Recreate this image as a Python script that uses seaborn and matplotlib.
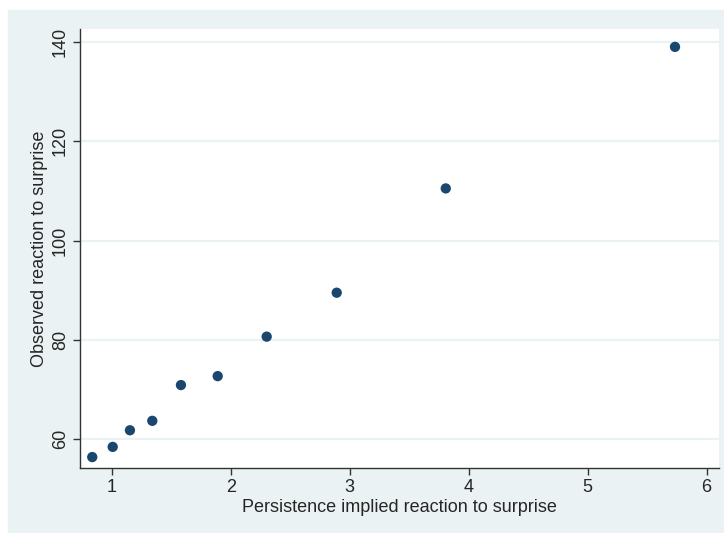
import matplotlib
matplotlib.use("Agg")
import matplotlib.pyplot as plt
import seaborn as sns
import pandas as pd

# persistence implied vs observed reaction to surprise
implied = [0.834, 1.006, 1.151, 1.339, 1.580, 1.889, 2.301, 2.890, 3.807, 5.735]
observed = [56.4, 58.45, 61.8, 63.7, 70.9, 72.7, 80.65, 89.5, 110.5, 139.0]
xticks = [1, 2, 3, 4, 5, 6]
yticks = [60, 80, 100, 120, 140]

df = pd.DataFrame({"implied": implied, "observed": observed})

sns.set_style("white")
plt.rcParams['font.family'] = ['Liberation Sans', 'DejaVu Sans']

bg = "#EAF2F3"
navy = "#1A476F"

fig = plt.figure(figsize=(7.24, 5.33), dpi=100)
fig.patch.set_facecolor("white")
rect = plt.Rectangle((8 / 724, 0), 1 - 8 / 724, 1 - 10 / 533,
                     transform=fig.transFigure, color=bg, zorder=-10)
fig.add_artist(rect)
ax = fig.add_axes([80 / 724, 1 - 468 / 533, (719 - 80) / 724, (468 - 29) / 533])
ax.set_zorder(1)
ax.set_facecolor("white")

for y in yticks:
    ax.axhline(y, color=bg, lw=1.6, zorder=1)

sns.scatterplot(data=df, x="implied", y="observed", ax=ax, color=navy,
                s=55, edgecolor="none", zorder=3, legend=False)

ax.set_xlim(0.731, 6.105)
ax.set_ylim(54.2, 142.6)
ax.set_xticks(xticks)
ax.set_yticks(yticks)
ax.set_xticklabels([str(v) for v in xticks], fontsize=13)
ax.set_yticklabels([str(v) for v in yticks], fontsize=13, rotation=90, va="center")
ax.tick_params(axis="both", direction="out", length=5, width=1, color="#333333",
               pad=3, left=True, bottom=True)
ax.set_xlabel("Persistence implied reaction to surprise", fontsize=13, labelpad=2)
ax.set_ylabel("Observed reaction to surprise", fontsize=13, labelpad=3)

for s in ["top", "right"]:
    ax.spines[s].set_visible(False)
for s in ["left", "bottom"]:
    ax.spines[s].set_color("#333333")
    ax.spines[s].set_linewidth(1)

fig.savefig("out.png", dpi=100)
